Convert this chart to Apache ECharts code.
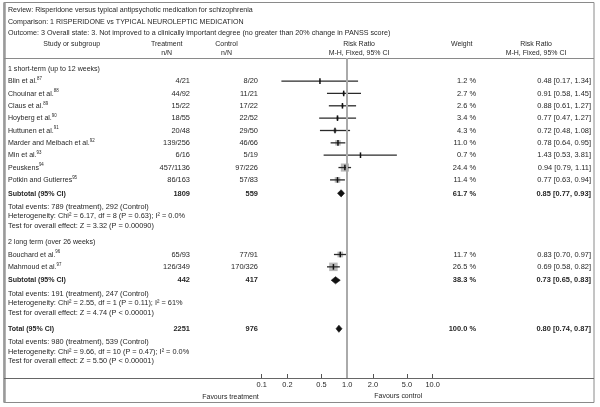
<!DOCTYPE html>
<html><head><meta charset="utf-8">
<script src="https://cdn.jsdelivr.net/npm/echarts@6/dist/echarts.min.js"></script>
<style>html,body{margin:0;padding:0;background:#fff}#c{width:600px;height:407px}</style>
</head><body><div id="c"></div>
<script>
// ---------- data ----------
const studies = ['Blin et al.', 'Chouinar et al.', 'Claus et al.', 'Hoyberg et al.', 'Huttunen et al.', 'Marder and Meibach et al.', 'Min et al.', 'Peuskens', 'Potkin and Gutierres', 'Bouchard et al.', 'Mahmoud et al.'];
const studyRefs = ['87', '88', '89', '90', '91', '92', '93', '94', '95', '96', '97'];
const studyGroup = [0, 0, 0, 0, 0, 0, 0, 0, 0, 1, 1];
const treatEvents = [4, 44, 15, 18, 20, 139, 6, 457, 86, 65, 126];
const treatTotal = [21, 92, 22, 55, 48, 256, 16, 1136, 163, 93, 349];
const ctrlEvents = [8, 11, 17, 22, 29, 46, 5, 97, 57, 77, 170];
const ctrlTotal = [20, 21, 22, 52, 50, 66, 19, 226, 83, 91, 326];
const weights = [1.2, 2.7, 2.6, 3.4, 4.3, 11.0, 0.7, 24.4, 11.4, 11.7, 26.5];
const rr = [0.48, 0.91, 0.88, 0.77, 0.72, 0.78, 1.43, 0.94, 0.77, 0.83, 0.69];
const ciLow = [0.17, 0.58, 0.61, 0.47, 0.48, 0.64, 0.53, 0.79, 0.63, 0.70, 0.58];
const ciHigh = [1.34, 1.45, 1.27, 1.27, 1.08, 0.95, 3.81, 1.11, 0.94, 0.97, 0.82];

const groupNames = ['1 short-term (up to 12 weeks)', '2 long term (over 26 weeks)'];
const sumLabels = ['Subtotal (95% CI)', 'Subtotal (95% CI)', 'Total (95% CI)'];
const sumTreatN = [1809, 442, 2251];
const sumCtrlN = [559, 417, 976];
const sumWeight = [61.7, 38.3, 100.0];
const sumRR = [0.85, 0.73, 0.80];
const sumLow = [0.77, 0.65, 0.74];
const sumHigh = [0.93, 0.83, 0.87];
const sumEventsT = [789, 191, 980];
const sumEventsC = [292, 247, 539];
const hetChi = ['6.17', '2.55', '9.66'];
const hetDf = [8, 1, 10];
const hetP = ['0.63', '0.11', '0.47'];
const hetI2 = ['0.0%', '61%', '0.0%'];
const effZ = ['3.32', '4.74', '5.50'];
const effP = ['(P = 0.00090)', '(P < 0.00001)', '(P < 0.00001)'];

const tickValues = [0.1, 0.2, 0.5, 1, 2, 5, 10];
const tickLabels = ['0.1', '0.2', '0.5', '1.0', '2.0', '5.0', '10.0'];

const titleLines = [
  'Review: Risperidone versus typical antipsychotic medication for schizophrenia',
  'Comparison: 1 RISPERIDONE vs TYPICAL NEUROLEPTIC MEDICATION',
  'Outcome: 3 Overall state: 3. Not improved to a clinically important degree (no greater than 20% change in PANSS score)'
];

// ---------- layout ----------
const FONT = "'Liberation Sans',Arial,sans-serif";
const FS = 8;          // base font size (condensed with scaleX)
const SX_TXT = 0.88;   // horizontal condensing for words
const SX_NUM = 0.93;   // horizontal condensing for numeric columns
const SX_NOTE = 0.92;
const TXT = '#262626';
const GRID_TOP = 58, GRID_H = 320, GRID_L = 261.7, GRID_W = 171;
const COL = {label: 8, treat: 190, ctrl: 258, weight: 476, rr: 591};

// build rows (y in grid units, 0 = grid top)
const rows = [];
let cy = 0;
function push(r, adv) { cy += adv; r.y = cy; rows.push(r); }
const fmtRR = (v, l, h) => v.toFixed(2) + ' [' + l.toFixed(2) + ', ' + h.toFixed(2) + ']';
function pushSummary(k, adv) {
  push({type: 'sum', k: k, label: sumLabels[k], treat: String(sumTreatN[k]), ctrl: String(sumCtrlN[k]),
        weight: sumWeight[k].toFixed(1) + ' %', rr: fmtRR(sumRR[k], sumLow[k], sumHigh[k])}, adv);
  push({type: 'note', label: 'Total events: ' + sumEventsT[k] + ' (treatment), ' + sumEventsC[k] + ' (Control)'}, 13.4);
  push({type: 'note', label: 'Heterogeneity: Chi\u00b2 = ' + hetChi[k] + ', df = ' + hetDf[k] + ' (P = ' + hetP[k] + '); I\u00b2 = ' + hetI2[k]}, 9.4);
  push({type: 'note', label: 'Test for overall effect: Z = ' + effZ[k] + ' ' + effP[k]}, 9.4);
}
for (let g = 0; g < groupNames.length; g++) {
  push({type: 'group', label: groupNames[g]}, g === 0 ? 10.3 : 16.2);
  let first = true;
  for (let i = 0; i < studies.length; i++) {
    if (studyGroup[i] !== g) continue;
    push({type: 'study', i: i, label: studies[i], sup: studyRefs[i],
          treat: treatEvents[i] + '/' + treatTotal[i], ctrl: ctrlEvents[i] + '/' + ctrlTotal[i],
          weight: weights[i].toFixed(1) + ' %', rr: fmtRR(rr[i], ciLow[i], ciHigh[i])}, first ? 12.8 : 12.35);
    first = false;
  }
  pushSummary(g, 13.4);
}
pushSummary(2, 16.3);

const studyRows = rows.filter(r => r.type === 'study');
const sumRows = rows.filter(r => r.type === 'sum');

function txt(text, x, y, align, bold, sx, size) {
  return {type: 'text', silent: true, x: x, y: y, scaleX: sx || SX_TXT, style: {
    text: text, x: 0, y: 0, align: align || 'left', verticalAlign: 'middle',
    font: (bold ? 'bold ' : '') + (size || FS) + 'px ' + FONT, fill: TXT
  }};
}

const chart = echarts.init(document.getElementById('c'), null, {renderer: 'canvas'});

const graphic = [
  // frame
  {type: 'rect', shape: {x: 4, y: 2.5, width: 590, height: 400}, style: {fill: 'none', stroke: '#8a8a8a', lineWidth: 1}, silent: true},
  {type: 'line', shape: {x1: 4.5, y1: 2.5, x2: 4.5, y2: 402.5}, style: {stroke: '#9a9a9a', lineWidth: 2.5}, silent: true},
  {type: 'line', shape: {x1: 4, y1: GRID_TOP + 0.5, x2: 594, y2: GRID_TOP + 0.5}, style: {stroke: '#8a8a8a', lineWidth: 1}, silent: true},
  {type: 'line', shape: {x1: 4, y1: GRID_TOP + GRID_H + 0.5, x2: 594, y2: GRID_TOP + GRID_H + 0.5}, style: {stroke: '#666', lineWidth: 1}, silent: true},
  txt(titleLines[0], 8, 9.5, 'left', false, 0.885),
  txt(titleLines[1], 8, 21.3, 'left', false, 0.885),
  txt(titleLines[2], 8, 33, 'left', false, 0.895),
  txt('Study or subgroup', 71.7, 43.3, 'center', false, 0.87),
  txt('Treatment', 166.7, 43.3, 'center', false, 0.87),
  txt('n/N', 166.7, 52.3, 'center', false, 0.87),
  txt('Control', 226.5, 43.3, 'center', false, 0.87),
  txt('n/N', 226.5, 52.3, 'center', false, 0.87),
  txt('Risk Ratio', 359, 43.3, 'center', false, 0.87),
  txt('M-H, Fixed, 95% CI', 359, 52.3, 'center', false, 0.87),
  txt('Weight', 461.7, 43.3, 'center', false, 0.87),
  txt('Risk Ratio', 536, 43.3, 'center', false, 0.87),
  txt('M-H, Fixed, 95% CI', 536, 52.3, 'center', false, 0.87),
  txt('Favours treatment', 230.5, 396.5, 'center', false, 0.87),
  txt('Favours control', 398.3, 395.5, 'center', false, 0.87)
];

chart.setOption({
  animation: false,
  backgroundColor: '#fff',
  graphic: graphic,
  grid: {left: GRID_L, top: GRID_TOP, width: GRID_W, height: GRID_H, containLabel: false, outerBoundsMode: 'none'},
  xAxis: {
    type: 'log', logBase: 10, min: 0.1, max: 10,
    axisLine: {show: false, onZero: false},
    splitLine: {show: false},
    axisTick: {show: true, inside: true, length: 4, customValues: tickValues, lineStyle: {color: '#555', width: 1}},
    axisLabel: {show: true, customValues: tickValues, margin: 3, fontSize: 7.4, fontFamily: FONT, color: TXT,
      formatter: v => tickLabels[tickValues.findIndex(t => Math.abs(t - v) < 1e-9)] || ''}
  },
  yAxis: {type: 'value', min: 0, max: GRID_H, inverse: true, show: false},
  series: [
    {
      // reference line at RR = 1
      type: 'scatter', data: [], silent: true,
      markLine: {silent: true, symbol: 'none', label: {show: false},
        lineStyle: {color: '#aaaaaa', width: 2, type: 'solid'},
        data: [{xAxis: 1}]}
    },
    {
      // table text
      type: 'custom', clip: false, silent: true,
      data: rows.map(r => [1, r.y]),
      renderItem(params, api) {
        const r = rows[params.dataIndex];
        const y = api.coord([1, api.value(1)])[1];
        const bold = r.type === 'sum';
        const ch = [];
        if (r.type === 'study') {
          ch.push({type: 'text', silent: true, x: COL.label, y: y, scaleX: SX_TXT, style: {
            text: '{n|' + r.label + '}{s|' + r.sup + '}', x: 0, y: 0, align: 'left', verticalAlign: 'middle',
            fill: TXT, font: FS + 'px ' + FONT,
            rich: {n: {fontSize: FS, fontFamily: FONT, lineHeight: 10, fill: TXT, verticalAlign: 'middle'},
                   s: {fontSize: 5, fontFamily: FONT, lineHeight: 5, fill: TXT, verticalAlign: 'top'}}
          }});
        } else {
          ch.push(txt(r.label, COL.label, y, 'left', bold, r.type === 'note' ? SX_NOTE : SX_TXT));
        }
        if (r.treat) ch.push(txt(r.treat, COL.treat, y, 'right', bold, SX_NUM));
        if (r.ctrl) ch.push(txt(r.ctrl, COL.ctrl, y, 'right', bold, SX_NUM));
        if (r.weight) ch.push(txt(r.weight, COL.weight, y, 'right', bold, SX_NUM));
        if (r.rr) ch.push(txt(r.rr, COL.rr, y, 'right', bold, SX_NUM));
        return {type: 'group', children: ch};
      }
    },
    {
      // study estimates: square + CI + tick
      type: 'custom', clip: false, silent: true,
      data: studyRows.map(r => [rr[r.i], r.y, ciLow[r.i], ciHigh[r.i], weights[r.i]]),
      renderItem(params, api) {
        const p = api.coord([api.value(0), api.value(1)]);
        const lo = api.coord([api.value(2), api.value(1)]);
        const hi = api.coord([api.value(3), api.value(1)]);
        const s = 1.65 * Math.sqrt(api.value(4));
        return {type: 'group', children: [
          {type: 'rect', shape: {x: p[0] - s / 2, y: p[1] - s / 2, width: s, height: s}, style: {fill: '#b9b9b9'}},
          {type: 'line', shape: {x1: lo[0], y1: p[1], x2: hi[0], y2: p[1]}, style: {stroke: '#2a2a2a', lineWidth: 1.3}},
          {type: 'line', shape: {x1: p[0], y1: p[1] - 2.8, x2: p[0], y2: p[1] + 2.8}, style: {stroke: '#111', lineWidth: 1.5}}
        ]};
      }
    },
    {
      // pooled diamonds
      type: 'custom', clip: false, silent: true,
      data: sumRows.map(r => [sumRR[r.k], r.y, sumLow[r.k], sumHigh[r.k]]),
      renderItem(params, api) {
        const p = api.coord([api.value(0), api.value(1)]);
        const lo = api.coord([api.value(2), api.value(1)]);
        const hi = api.coord([api.value(3), api.value(1)]);
        const h = 3.6;
        return {type: 'polygon', shape: {points: [[lo[0], p[1]], [p[0], p[1] - h], [hi[0], p[1]], [p[0], p[1] + h]]},
          style: {fill: '#111', stroke: '#111', lineWidth: 0.6}};
      }
    }
  ]
});
</script>
</body></html>
